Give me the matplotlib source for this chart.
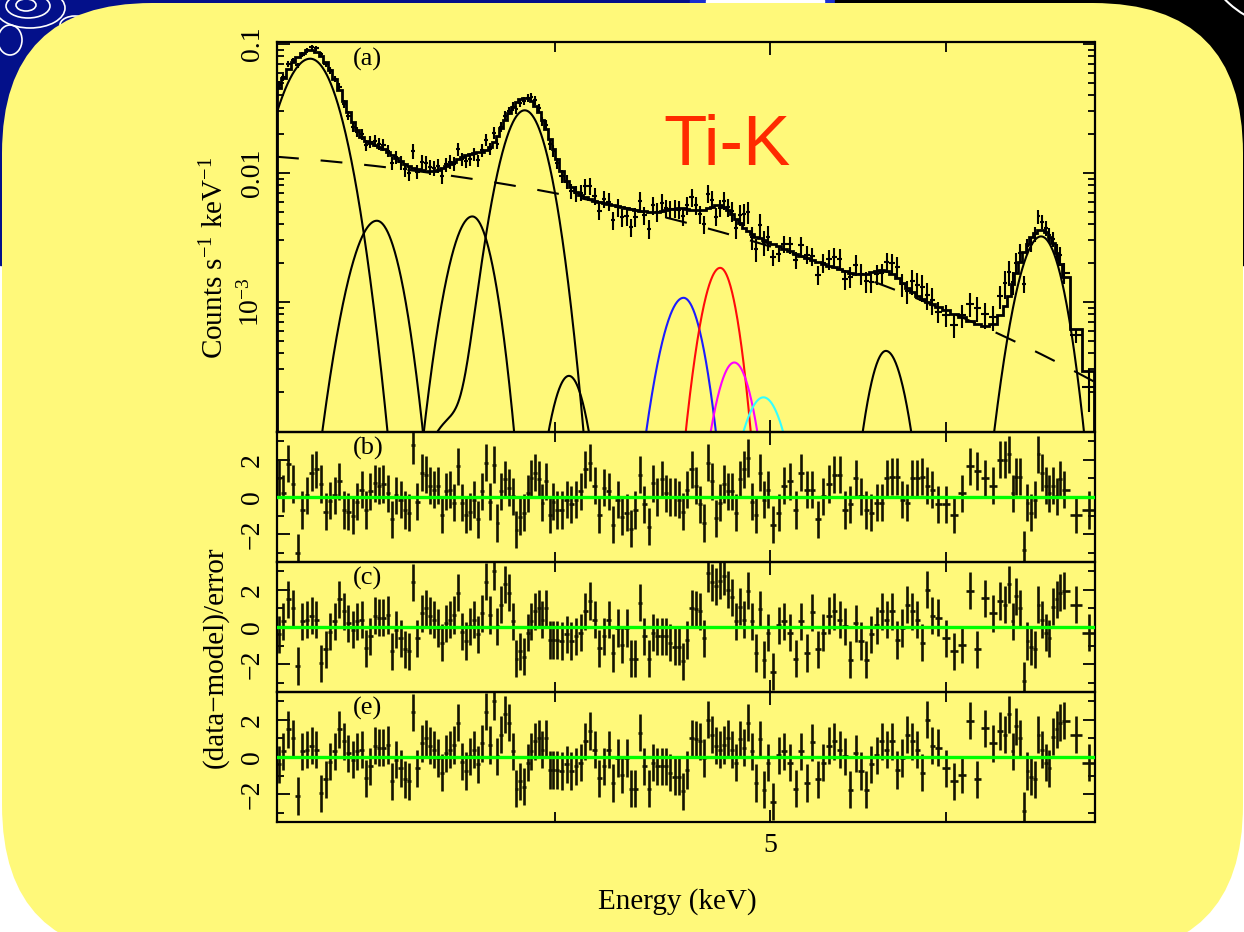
#!/usr/bin/env python3
# X-ray spectrum around the Ti-K lines, model components and three residual panels

import numpy as np
import matplotlib
matplotlib.use("Agg")
import matplotlib.pyplot as plt
from matplotlib.patches import FancyBboxPatch, Rectangle, Ellipse
from matplotlib.ticker import FixedLocator, FixedFormatter, NullFormatter

plt.rcParams['font.family'] = ['Liberation Serif', 'DejaVu Serif']
plt.rcParams['mathtext.fontset'] = 'custom'
plt.rcParams['mathtext.rm'] = 'Liberation Serif'
plt.rcParams['mathtext.it'] = 'Liberation Serif:italic'
plt.rcParams['mathtext.bf'] = 'Liberation Serif:bold'

# bin centres (keV)
ENERGY = [3.005, 3.02, 3.035, 3.05, 3.065, 3.08, 3.095, 3.11, 3.125, 3.14,
          3.155, 3.17, 3.185, 3.2, 3.215, 3.23, 3.245, 3.26, 3.275, 3.29,
          3.305, 3.32, 3.335, 3.35, 3.365, 3.38, 3.395, 3.41, 3.425, 3.44,
          3.455, 3.47, 3.485, 3.5, 3.515, 3.53, 3.545, 3.56, 3.575, 3.59,
          3.605, 3.62, 3.635, 3.65, 3.665, 3.68, 3.695, 3.71, 3.725, 3.74,
          3.755, 3.77, 3.785, 3.8, 3.815, 3.83, 3.845, 3.86, 3.875, 3.89,
          3.905, 3.92, 3.935, 3.95, 3.965, 3.98, 3.995,
          4.01, 4.03, 4.05, 4.07, 4.09, 4.11, 4.13, 4.15, 4.17, 4.19,
          4.21, 4.23, 4.25, 4.27, 4.29, 4.31, 4.33, 4.35, 4.37, 4.39,
          4.41, 4.43, 4.45, 4.47, 4.49, 4.51, 4.53, 4.55, 4.57, 4.59,
          4.61, 4.63, 4.65, 4.67, 4.69, 4.71, 4.73, 4.75, 4.77, 4.79,
          4.81, 4.83, 4.85, 4.87, 4.89, 4.91, 4.93, 4.95, 4.97, 4.99,
          5.015, 5.045, 5.075, 5.105, 5.135, 5.165, 5.195, 5.225, 5.255, 5.285,
          5.315, 5.345, 5.375, 5.405, 5.435, 5.465, 5.495, 5.525, 5.555, 5.585,
          5.615, 5.645, 5.675, 5.705, 5.735, 5.765, 5.795, 5.825, 5.855, 5.885,
          5.915,
          5.95, 6.0, 6.05, 6.1, 6.15, 6.2, 6.25, 6.3, 6.35,
          6.38, 6.405, 6.43, 6.455, 6.48, 6.505, 6.53, 6.555, 6.58, 6.605,
          6.63, 6.655, 6.68, 6.705, 6.73, 6.755, 6.78,
          6.866, 6.96]

# counts s-1 keV-1
RATE = [.0485, .0550, .0695, .0747, .0684, .0828, .0893, .0947, .0925, .0834,
        .0696, .0624, .0537, .0466, .0345, .0278, .0227, .0209, .0199, .0165,
        .0174, .0177, .0169, .0165, .0149, .0119, .0133, .0121, .0107, .0100,
        .0148, .01025, .01221, .01204, .0112, .01098, .01142, .00951, .01165, .01226,
        .01178, .01533, .01286, .01227, .01281, .01407, .01249, .0151, .01808, .01545,
        .02044, .01686, .0229, .02768, .03035, .03275, .03105, .03474, .03603, .03831,
        .03861, .03646, .03193, .02519, .02363, .01666, .01491,
        .01188, .00952, .00856, .0073, .00695, .00701, .00787, .00796, .00664, .0051,
        .00629, .006, .00431, .0054, .00452, .00461, .00381, .00457, .00609, .0047,
        .00368, .00562, .00502, .00586, .00531, .00522, .00529, .0052, .00464, .00561,
        .00647, .00563, .0048, .00402, .0069, .00621, .00459, .00535, .00611, .00544,
        .00505, .00376, .00476, .00482, .00497, .00316, .00257, .00394, .0029, .00316,
        .00222, .00237, .00281, .00279, .00211, .00275, .00233, .00225, .00163, .0020,
        .00214, .00224, .00217, .00151, .00157, .00195, .00166, .00144, .00143, .00165,
        .00167, .00204, .00199, .00186, .00137, .00121, .00145, .00136, .0013, .00113,
        .00104,
        .00084, .00079, .00066, .00079, .00097, .00089, .0008, .00076, .00111,
        .0014, .0017, .00143, .00202, .0024, .00138, .00269, .0028, .00336, .00461,
        .00419, .00374, .0033, .00308, .00243, .0023, .00169,
        .00055, .00022]

# relative 1-sigma error of RATE
RATE_ERR = [.063, .058, .054, .050, .048, .046, .045, .045, .046, .048,
            .050, .054, .058, .064, .071, .078, .086, .092, .097, .101,
            .104, .105, .107, .109, .112, .115, .118, .122, .125, .128,
            .130, .131, .132, .132, .133, .132, .131, .130, .127, .125,
            .122, .119, .117, .115, .114, .113, .112, .112, .110, .107,
            .103, .097, .090, .084, .079, .075, .072, .070, .069, .069,
            .071, .074, .078, .084, .091, .100, .109,
            .103, .115, .125, .133, .139, .143, .146, .148, .150, .152,
            .153, .155, .156, .157, .159, .160, .162, .163, .164, .165,
            .166, .166, .165, .164, .163, .162, .161, .160, .160, .161,
            .162, .163, .163, .162, .160, .158, .156, .156, .158, .162,
            .169, .176, .184, .191, .198, .203, .207, .211, .214, .217,
            .141, .144, .148, .151, .154, .157, .160, .163, .166, .169,
            .172, .174, .177, .180, .182, .185, .185, .185, .182, .180,
            .179, .180, .185, .191, .200, .209, .217, .225, .233, .238,
            .243,
            .189, .194, .200, .207, .213, .219, .223, .220, .203,
            .245, .224, .203, .183, .166, .152, .142, .133, .128, .125,
            .125, .127, .132, .141, .153, .169, .189,
            .12, .36]

# (data-model)/error for the three fits
RES_B = [1.0, 0.2, 1.8, 0.7, -3.0, -0.7, 0.1, 1.3, 1.5, 0.7,
         -0.8, -0.2, 0.1, 0.85, -0.7, -0.8, -1.0, -0.25, 0.4, -0.7,
         0.3, 0.75, 0.6, 0.7, 0.2, -1.2, 0.1, -0.15, -0.7, -0.85,
         2.8, -0.25, 1.3, 1.2, 0.6, 0.4, 0.6, -0.95, 0.3, 0.4,
         -0.3, 1.65, -0.3, -0.95, -0.8, -0.15, -1.2, 0.3, 1.85, -0.25,
         1.75, -1.4, 0.3, 0.95, 0.5, 0.05, -1.75, -1.05, -0.85, 0.2,
         1.0, 1.3, 0.95, -0.3, 0.85, -0.95, -0.25,
         -0.7, -0.7, -0.15, -0.4, -0.15, 0.3, 1.5, 1.85, 0.6, -0.95,
         0.5, 0.3, -1.5, -0.15, -1.05, -0.85, -1.7, -0.7, 1.2, -0.4,
         -1.6, 0.75, 0.0, 0.95, 0.2, 0.0, 0.0, -0.15, -0.8, 0.4,
         1.5, 0.6, -0.4, -1.4, 1.85, 0.85, -1.15, -0.3, 0.7, 0.3,
         0.3, -0.85, 0.95, 1.5, 2.1, -0.25, -0.95, 1.3, -0.15, 0.4,
         -1.5, -0.85, 0.6, 0.85, -0.7, 1.3, 0.4, 0.4, -1.2, 0.05,
         0.7, 1.2, 1.2, -0.7, -0.4, 1.0, 0.05, -0.7, -0.85, -0.3,
         -0.3, 1.0, 1.1, 1.1, -0.15, -0.3, 1.0, 1.0, 1.1, 0.6,
         0.4,
         -0.4, -0.4, -0.95, 0.2, 1.65, 1.4, 1.0, 0.6, 2.0,
         2.0, 2.3, 0.2, 1.1, 1.1, -2.85, -0.3, -0.85, -0.15, 2.3,
         1.3, 0.6, 0.2, 0.6, 0.05, 0.95, 0.4,
         -0.95, -0.7]

RES_C = [-0.4, 0.3, 1.5, 1.0, -2.1, 0.3, 0.4, 0.6, 0.4, -1.95,
         -1.2, -0.25, 0.3, 1.5, 0.85, 0.2, -0.15, 0.3, 0.4, -1.15,
         -0.5, 0.6, 0.5, 0.5, 0.65, -1.3, -0.15, -0.6, -1.2, -1.3,
         2.4, -0.6, 0.75, 1.0, 0.6, 0.4, -0.05, -0.85, 0.2, 0.4,
         0.65, 1.85, -0.25, -0.75, 0.05, 0.4, -0.4, 0.75, 2.45, 0.65,
         3.0, 0.05, 1.2, 2.3, 1.85, 0.3, -1.7, -1.3, -1.6, -0.3,
         0.3, 0.85, 1.0, 0.4, 1.0, -0.7, -0.7,
         -0.7, -0.75, -0.4, -0.75, -0.5, -0.3, 0.85, 1.4, 0.4, -1.15,
         -0.5, 0.4, -1.4, -0.05, -0.95, -0.05, -1.7, -1.7, 1.3, -0.5,
         -1.7, -0.3, -0.5, -0.5, -0.5, -0.85, -1.05, -1.05, -1.85, -0.7,
         1.0, 0.95, 0.85, -0.6, 2.9, 2.4, 2.2, 2.5, 2.75, 2.0,
         1.6, 0.3, 1.1, 0.4, 1.95, 0.3, -1.4, 0.95, -1.75, -0.3,
         -2.4, 0.1, 0.3, -0.3, -1.7, 0.3, -1.4, 0.8, -1.2, -0.3,
         0.6, 0.85, 0.4, 0.05, -1.75, 0.2, -0.75, -1.75, -0.4, 0.1,
         0.85, 0.4, 0.85, -0.7, -0.05, 1.2, 0.85, 0.4, -0.85, 2.0,
         0.6,
         0.5, -0.6, -1.3, -0.95, 1.95, -1.2, 1.55, 0.75, 1.4,
         1.2, 2.3, 0.3, 1.65, 1.0, -2.9, -0.75, -1.05, -1.2, 1.2,
         0.4, -0.3, -0.6, 1.1, 1.5, 1.85, 1.95,
         1.2, -0.3]

RES_E = [-0.4, 0.3, 1.5, 1.0, -2.1, 0.3, 0.4, 0.6, 0.4, -1.95,
         -1.2, -0.25, 0.3, 1.5, 0.85, 0.2, -0.15, 0.3, 0.4, -1.15,
         -0.5, 0.6, 0.5, 0.5, 0.65, -1.3, -0.15, -0.6, -1.2, -1.3,
         2.4, -0.6, 0.75, 1.0, 0.6, 0.4, -0.05, -0.85, 0.2, 0.4,
         0.65, 1.85, -0.25, -0.75, 0.05, 0.4, -0.4, 0.75, 2.45, 0.65,
         3.0, 0.05, 1.2, 2.3, 1.85, 0.3, -1.7, -1.3, -1.6, -0.3,
         0.3, 0.85, 1.0, 0.4, 1.0, -0.7, -0.7,
         -0.7, -0.75, -0.4, -0.75, -0.5, -0.3, 0.85, 1.4, 0.4, -1.15,
         -0.5, 0.4, -1.4, -0.05, -0.95, -0.05, -1.7, -1.7, 1.3, -0.5,
         -1.7, -0.3, -0.5, -0.5, -0.5, -0.85, -1.05, -1.05, -1.85, -0.7,
         1.0, 0.95, 0.85, -0.05, 2.0, 1.2, 0.6, 0.4, 0.65, 1.0,
         0.4, -0.3, 0.95, 0.5, 1.85, 0.3, -1.4, 0.95, -1.75, -0.3,
         -2.4, 0.1, 0.3, -0.3, -1.7, 0.3, -1.4, 0.8, -1.2, -0.3,
         0.6, 0.85, 0.4, 0.05, -1.75, 0.2, -0.75, -1.75, -0.4, 0.1,
         0.85, 0.4, 0.85, -0.7, -0.05, 1.2, 0.85, 0.4, -0.85, 2.0,
         0.6,
         0.5, -0.6, -1.3, -0.95, 1.95, -1.2, 1.55, 0.75, 1.4,
         1.2, 2.3, 0.3, 1.65, 1.0, -2.9, -0.75, -1.05, -1.2, 1.2,
         0.4, -0.3, -0.6, 1.1, 1.5, 1.85, 1.95,
         1.2, -0.3]

# continuum (dashed): log10 rate at 3 keV, slope, exponential fall-off
CONT_LOGNORM = -1.8746
CONT_INDEX = 4.697
CONT_DECAY = 0.8684

# line components: centre (keV), peak, low/high side widths, colour
LINE_E = [3.105, 3.327, 3.673, 3.878, 4.06, 4.572, 4.749, 4.819, 4.967, 5.639, 6.623]
LINE_PEAK = [0.0769, 0.00426, 0.0046, 0.0306, 0.000267, 0.001076, 0.001837,
             0.000339, 0.000182, 0.000417, 0.00322]
LINE_SIG_LO = [0.076, 0.0666, 0.0649, 0.072, 0.06, 0.0793, 0.0688, 0.074, 0.092, 0.0787, 0.119]
LINE_SIG_HI = [0.071, 0.0593, 0.0587, 0.072, 0.06, 0.0713, 0.0632, 0.074, 0.092, 0.0882, 0.114]
LINE_COLOR = ['black', 'black', 'black', 'black', 'black',
              '#1c1cff', '#ff0a0a', '#ff00ff', '#33ffff', 'black', 'black']
# low energy tail belonging to the Ca line
TAIL_OF = 3
TAIL_E, TAIL_PEAK, TAIL_SIG = 3.60, 1.2e-4, 0.09


def continuum(e):
    e = np.asarray(e, dtype=float)
    return 10**(CONT_LOGNORM + CONT_INDEX*np.log10(e/3.0) - CONT_DECAY*(e-3.0))


def line(e, i):
    e = np.asarray(e, dtype=float)
    sig = np.where(e < LINE_E[i], LINE_SIG_LO[i], LINE_SIG_HI[i])
    y = LINE_PEAK[i]*np.exp(-0.5*((e-LINE_E[i])/sig)**2)
    if i == TAIL_OF:
        y = y + TAIL_PEAK*np.exp(-0.5*((e-TAIL_E)/TAIL_SIG)**2)
    return y


E = np.array(ENERGY)
rate = np.array(RATE)
edges = np.concatenate([[3.0], (E[1:]+E[:-1])/2, [7.0]])
xerr = [E-edges[:-1], edges[1:]-E]
model = continuum(E) + sum(line(E, i) for i in range(len(LINE_E)))

W, H = 1244, 932
fig = plt.figure(figsize=(W/100, H/100), dpi=100, facecolor='white')

# slide background
bg = fig.add_axes([0, 0, 1, 1], zorder=-10)
bg.set_xlim(0, W)
bg.set_ylim(H, 0)
bg.axis('off')
bg.add_patch(Rectangle((0, 0), 700, 265, color='#03108a'))
bg.add_patch(Rectangle((690, 0), 145, 12, color='#1a2fd0'))
bg.add_patch(Rectangle((706, 0), 118, 4, color='white'))
bg.add_patch(Rectangle((835, 0), W-835, 265, color='black'))
for cx, cy, w, h in [(30, 8, 70, 40), (28, 6, 44, 24), (26, 5, 20, 12), (75, 25, 30, 18),
                     (10, 40, 24, 30)]:
    bg.add_patch(Ellipse((cx, cy), w, h, fill=False, ec='white', lw=1.2))
bg.add_patch(Ellipse((1300, -60), 200, 180, fill=False, ec='white', lw=1.5))
bg.add_patch(FancyBboxPatch((2, 3), 1241, 952, boxstyle='round,pad=0,rounding_size=150',
                            fc='#fff97a', ec='none'))

L0 = 277/W
AW = (1094.5-277)/W


def panel(top, bottom):
    return fig.add_axes([L0, 1-bottom/H, AW, (bottom-top)/H], facecolor='none')


axa = panel(42, 432)
axb = panel(432, 562)
axc = panel(562, 692)
axe = panel(692, 822)

for ax in (axa, axb, axc, axe):
    ax.set_xscale('log')
    ax.set_xlim(3.0, 7.0)
    ax.xaxis.set_major_locator(FixedLocator([5]))
    ax.xaxis.set_minor_locator(FixedLocator([4, 6]))
    ax.xaxis.set_major_formatter(FixedFormatter(['5']))
    ax.xaxis.set_minor_formatter(NullFormatter())
    ax.tick_params(which='both', direction='in', top=True, right=True,
                   width=1.3, labelsize=20)
    ax.tick_params(axis='x', which='major', length=9, pad=8)
    ax.tick_params(axis='x', which='minor', length=7.5)
    ax.tick_params(axis='y', which='major', length=9, pad=9, labelrotation=90)
    ax.tick_params(axis='y', which='minor', length=5)
    for s in ax.spines.values():
        s.set_linewidth(1.6)
    if ax is not axe:
        ax.tick_params(labelbottom=False)

# (a) spectrum
axa.set_yscale('log')
axa.set_ylim(9.8e-5, 0.1036)
axa.yaxis.set_major_locator(FixedLocator([1e-3, 1e-2, 1e-1]))
axa.yaxis.set_major_formatter(FixedFormatter([r'$\mathregular{10^{-3}}$', '0.01', '0.1']))
axa.yaxis.set_minor_locator(FixedLocator([k*10.0**p for p in (-4, -3, -2) for k in range(2, 10)]))
axa.yaxis.set_minor_formatter(NullFormatter())

eg = np.geomspace(3.0, 7.0, 2000)
axa.plot(eg, continuum(eg), color='black', lw=1.5, dashes=(10.5, 10.5), zorder=2)
for i in range(len(LINE_E)):
    y = line(eg, i)
    y[y < 1e-7] = np.nan
    axa.plot(eg, y, color=LINE_COLOR[i], lw=1.5, zorder=2)
axa.stairs(model, edges, color='black', lw=2.0, zorder=3)
axa.errorbar(E, rate, xerr=xerr, yerr=rate*np.array(RATE_ERR), fmt='none',
             ecolor='black', elinewidth=1.5, capsize=0, zorder=4)
axa.text(0.093, 0.955, '(a)', transform=axa.transAxes, fontsize=19, ha='left', va='center')

# residual panels
for ax, res, tag in ((axb, RES_B, '(b)'), (axc, RES_C, '(c)'), (axe, RES_E, '(e)')):
    ax.set_ylim(-3.5, 3.5)
    ax.yaxis.set_major_locator(FixedLocator([-2, 0, 2]))
    ax.yaxis.set_major_formatter(FixedFormatter(['\u22122', '0', '2']))
    ax.yaxis.set_minor_locator(FixedLocator([-3, -1, 1, 3]))
    ax.yaxis.set_minor_formatter(NullFormatter())
    ax.errorbar(E, res, xerr=xerr, yerr=1.0, fmt='none', ecolor='#141400',
                elinewidth=1.9, capsize=0, zorder=2)
    ax.axhline(0, color='#00ff00', lw=2.4, zorder=3)
    ax.text(0.093, 0.875, tag, transform=ax.transAxes, fontsize=19, ha='left', va='center')

for ax in (axa, axb, axc, axe):
    plt.setp(ax.get_yticklabels(), va='center')

fig.text(215/W, 1-258/H, r'Counts s$^{-1}$ keV$^{-1}$', rotation=90,
         ha='center', va='center', fontsize=21)
fig.text(215/W, 1-657/H, '(data\u2212model)/error', rotation=90,
         ha='center', va='center', fontsize=21)
fig.text(677/W, 1-902/H, 'Energy (keV)', ha='center', va='center', fontsize=21)
fig.text(663/W, 1-165/H, 'Ti-K', color='#ff2a00', fontsize=51,
         family='Liberation Sans', ha='left', va='baseline')

fig.savefig('out.png', dpi=100, facecolor=fig.get_facecolor())
